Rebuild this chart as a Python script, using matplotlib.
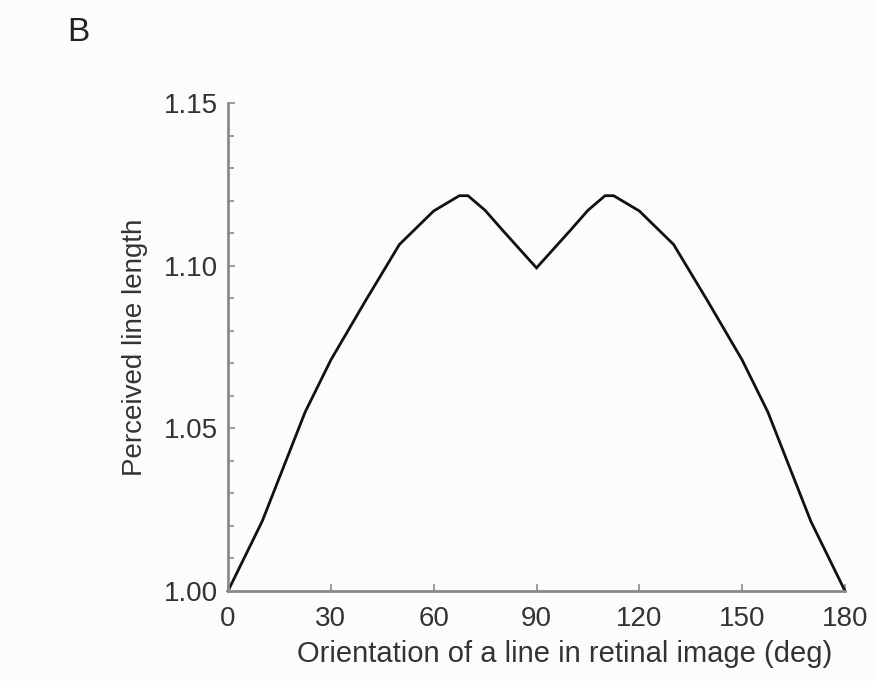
import numpy as np
import matplotlib.pyplot as plt
from matplotlib.ticker import MultipleLocator

# orientation (deg) and perceived line length
orientation = [0, 10, 22.5, 30, 40, 50, 60, 67.5, 70, 75, 80, 90,
               100, 105, 110, 112.5, 120, 130, 140, 150, 157.5, 170, 180]
perceived = [1.000, 1.0215, 1.055, 1.071, 1.089, 1.1065, 1.1168, 1.1215, 1.1215, 1.117, 1.111, 1.0993,
             1.111, 1.117, 1.1215, 1.1215, 1.1168, 1.1065, 1.089, 1.071, 1.055, 1.0215, 1.000]

plt.rcParams['font.family'] = ['Liberation Sans', 'DejaVu Sans']

fig = plt.figure(figsize=(8.75, 6.81), dpi=100, facecolor='#fcfcfc')
ax = fig.add_axes([0.2606, 0.1322, 0.7051, 0.7166], facecolor='#fcfcfc')

ax.plot(orientation, perceived, color='#111111', lw=2.0, solid_joinstyle='miter', clip_on=False)

ax.set_xlim(0, 180)
ax.set_ylim(1.00, 1.15)
ax.set_xticks([0, 30, 60, 90, 120, 150, 180])
ax.set_yticks([1.00, 1.05, 1.10, 1.15])
ax.set_yticklabels(['1.00', '1.05', '1.10', '1.15'])
ax.yaxis.set_minor_locator(MultipleLocator(0.01))

for side in ['top', 'right']:
    ax.spines[side].set_visible(False)
for side in ['left', 'bottom']:
    ax.spines[side].set_color('#8a8a8a')
    ax.spines[side].set_linewidth(2.0)

ax.tick_params(which='both', direction='in', color='#8a8a8a', width=1.2,
               labelsize=20, labelcolor='#333333')
ax.tick_params(which='major', length=5)
ax.tick_params(axis='x', which='major', pad=11)
ax.tick_params(axis='y', which='major', pad=7)
ax.tick_params(which='minor', length=4)

ax.set_xlabel('Orientation of a line in retinal image (deg)', fontsize=21, color='#333333')
ax.xaxis.set_label_coords(0.546, -0.1)
ax.set_ylabel('Perceived line length', fontsize=20, color='#333333', labelpad=12)

fig.text(0.077, 0.975, 'B', fontsize=24, color='#222222', ha='left', va='top')

fig.savefig('out.png', dpi=100, facecolor=fig.get_facecolor())
